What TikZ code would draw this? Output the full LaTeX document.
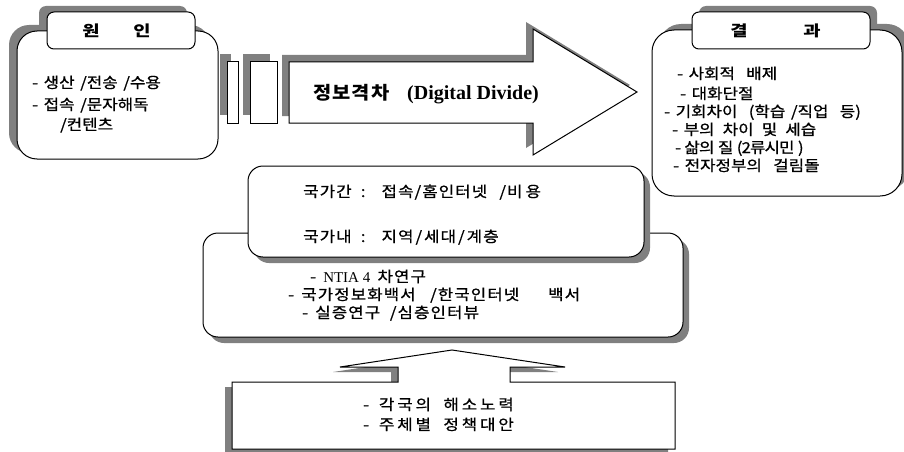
\documentclass[tikz,border=0pt]{standalone}
\usepackage{fontspec}
\newfontfamily\krA{Noto Sans CJK KR}[FakeStretch=1.12, WordSpace=1.5, FakeBold=0.8]
\newfontfamily\krM{Noto Sans CJK KR}[FakeStretch=1.12, WordSpace=1.5, LetterSpace=7, FakeBold=0.8]
\newfontfamily\krB{Noto Sans CJK KR}[FakeStretch=1.12, WordSpace=1.5, LetterSpace=19, FakeBold=0.8]
\newfontfamily\krN{Noto Sans CJK KR}[FakeStretch=1.12, WordSpace=1.2, LetterSpace=-6, FakeBold=0.8]
\newfontfamily\krT{Noto Sans CJK KR}[FakeStretch=1.25]
\newfontfamily\krD{Noto Sans CJK KR}[FakeStretch=1.1, LetterSpace=6]
\newfontfamily\tms{Liberation Serif}
\definecolor{shadowgray}{RGB}{128,128,128}
\tikzset{
  shad/.style={fill=shadowgray, draw=none},
  boxline/.style={draw=black, fill=white, line width=1pt},
  txtA/.style={anchor=base west, inner sep=0pt, font=\krA\fontsize{15}{17}\selectfont},
  txtM/.style={anchor=base west, inner sep=0pt, font=\krM\fontsize{15}{17}\selectfont},
  txtB/.style={anchor=base west, inner sep=0pt, font=\krB\fontsize{15}{17}\selectfont},
  txtN/.style={anchor=base west, inner sep=0pt, font=\krN\fontsize{15}{17}\selectfont},
  ttl/.style={anchor=base, inner sep=0pt, font=\krT\bfseries\fontsize{15}{17}\selectfont},
}
\begin{document}
\begin{tikzpicture}[x=1pt, y=-1pt]
\useasboundingbox (0,0) rectangle (904,452);

% ---------- left box (cause) ----------
\fill[shad, rounded corners=20pt] (9,25) rectangle (210,153);
\fill[shad, rounded corners=7pt] (39,6) rectangle (187,43);
\draw[boxline, rounded corners=20pt] (17,31) rectangle (218,159);
\draw[boxline, rounded corners=7pt] (47,12) rectangle (195,49);
\node[ttl] (c1) at (91,37) {원};
\node[ttl] (c2) at (142,37) {인};
\node[txtA] (l1) at (32,88) {- 생산 /전송 /수용};
\node[txtA] (l2) at (32,110) {- 접속 /문자해독};
\node[txtA] (l3) at (60,130) {/컨텐츠};

% ---------- small bars ----------
\fill[shad] (220,54) rectangle (231,115);
\fill[shad] (243,54) rectangle (270,115);
\draw[boxline] (227,62) rectangle (238,123);
\draw[boxline] (250,62) rectangle (277,123);

% ---------- big arrow ----------
\fill[shad] (282,55) -- (526,55) -- (526,22) -- (630,85) -- (526,148) -- (526,116) -- (282,116) -- cycle;
\draw[boxline] (289,62) -- (533,62) -- (533,29) -- (637,92) -- (533,155) -- (533,123) -- (289,123) -- cycle;
\node[anchor=base west, inner sep=0pt, font=\krD\bfseries\fontsize{18}{20}\selectfont] (dd1) at (313,99) {정보격차};
\node[anchor=base west, inner sep=0pt, font=\tms\bfseries\fontsize{20}{22}\selectfont] (dd2) at (407,99) {(Digital Divide)};

% ---------- right box (result) ----------
\fill[shad, rounded corners=22pt] (659,24) rectangle (909,190);
\fill[shad, rounded corners=7pt] (699,6) rectangle (877,43);
\draw[boxline, rounded corners=22pt] (652,30) rectangle (902,196);
\draw[boxline, rounded corners=7pt] (692,12) rectangle (870,49);
\node[ttl] (r0a) at (739,37) {결};
\node[ttl] (r0b) at (812,37) {과};
\node[txtA] (r1) at (677,79) {- 사회적 \ 배제};
\node[txtA] (r2) at (680,99) {- 대화단절};
\node[txtA] (r3) at (664,117) {- 기회차이 \ (학습 /직업 \ 등)};
\node[txtA] (r4) at (672,135) {- 부의 \,차이 \,및 \,세습};
\node[txtN] (r5) at (675,153) {- 삶의 질 (2류시민 )};
\node[txtA] (r6) at (673,171) {- 전자정부의 \ 걸림돌};

% ---------- middle boxes ----------
\fill[shad, rounded corners=15pt] (209,239) rectangle (689,343);
\draw[boxline, rounded corners=15pt] (203,233) rectangle (683,337);
\fill[shad, rounded corners=15pt] (254,172) rectangle (650,263);
\draw[boxline, rounded corners=15pt] (248,166) rectangle (644,257);
\node[txtM] (m1) at (303,197) {국가간 \hspace{2pt}: \ 접속/홈인터넷 \hspace{5pt}/비\hspace{3pt}용};
\node[txtM] (m2) at (303,242) {국가내 \hspace{2pt}: \ 지역\hspace{2pt}/\hspace{2pt}세대\hspace{2pt}/\hspace{2pt}계층};
\node[txtM] (m3) at (310,282) {- {\tms\fontsize{15}{16}\selectfont NTIA 4} 차연구};
\node[txtM] (m4) at (288,300) {- 국가정보화백서 \ /한국인터넷 \ \ \ 백서};
\node[txtM] (m5) at (302,318) {- 실증연구 \,/심층인터뷰};

% ---------- bottom box with up arrow ----------
\fill[shad] (225,387) -- (391,387) -- (391,372) -- (333,372) -- (445,355) -- (558,372) -- (503,372) -- (503,387) -- (668,387) -- (668,454) -- (225,454) -- cycle;
\draw[boxline] (232,382) -- (398,382) -- (398,367) -- (340,367) -- (452,350) -- (565,367) -- (510,367) -- (510,382) -- (675,382) -- (675,449) -- (232,449) -- cycle;
\node[txtB] (b1) at (363,410) {- 각국의 \,해소노력};
\node[txtB] (b2) at (363,430) {- 주체별 \,정책대안};
\end{tikzpicture}
\end{document}
